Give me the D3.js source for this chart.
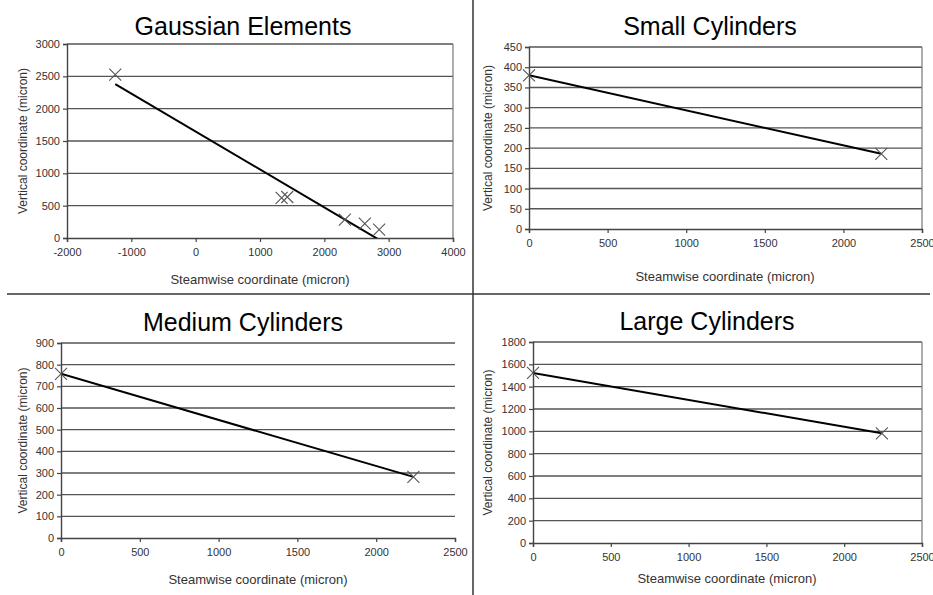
<!DOCTYPE html>
<html>
<head>
<meta charset="utf-8">
<script src="https://cdn.jsdelivr.net/npm/d3@7"></script>
<style>
  body { margin: 0; background: #fff; }
  svg { display: block; font-family: "Liberation Sans", Arial, sans-serif; }
  .tick text { fill: #333; font-size: 11px; }
  .chart-title { font-size: 25px; fill: #000; }
  .axis-title { font-size: 12px; fill: #333; }
  .axis-title.x { font-size: 13px; }
</style>
</head>
<body>
<svg id="chart" width="933" height="595"></svg>
<script>
// data
const titles = ["Gaussian Elements", "Small Cylinders", "Medium Cylinders", "Large Cylinders"];
const gaussX = [-1250, 1336, 1424, 2319, 2629, 2852];
const gaussY = [2525, 619, 634, 284, 222, 129];
const smallX = [0, 2241];
const smallY = [380, 186];
const mediumX = [0, 2236];
const mediumY = [758, 282];
const largeX = [0, 2242];
const largeY = [1523, 982];
const xDomains = [[-2000, 4000], [0, 2500], [0, 2500], [0, 2500]];
const yDomains = [[0, 3000], [0, 450], [0, 900], [0, 1800]];
const xSteps = [1000, 500, 500, 500];
const ySteps = [500, 50, 100, 200];

const xTitle = "Steamwise coordinate (micron)";
const yTitle = "Vertical coordinate (micron)";

// layout of each panel (pixel boxes of plot areas)
const panels = [
  {xs: gaussX, ys: gaussY, box: {l: 67, r: 453, t: 44, b: 238}, titleX: 243, titleY: 35, xlabY: 284, xlabX: 260, ylabX: 23, border: true},
  {xs: smallX, ys: smallY, box: {l: 529, r: 922, t: 47, b: 229}, titleX: 710, titleY: 35, xlabY: 281, xlabX: 725, ylabX: 488, border: true},
  {xs: mediumX, ys: mediumY, box: {l: 61, r: 455, t: 343, b: 538}, titleX: 243, titleY: 331, xlabY: 584, xlabX: 258, ylabX: 23, border: false},
  {xs: largeX, ys: largeY, box: {l: 533, r: 922, t: 342, b: 543}, titleX: 707, titleY: 330, xlabY: 583, xlabX: 727, ylabX: 488, border: true}
];

const svg = d3.select("#chart");

// panel dividers
svg.append("line").attr("x1", 473).attr("x2", 473).attr("y1", 0).attr("y2", 595)
  .attr("stroke", "#333").attr("stroke-width", 1.5);
svg.append("line").attr("x1", 7).attr("x2", 930).attr("y1", 294).attr("y2", 294)
  .attr("stroke", "#333").attr("stroke-width", 1.5);

function regression(xs, ys) {
  let mx = d3.mean(xs), my = d3.mean(ys);
  let sxy = d3.sum(xs, (x, i) => (x - mx) * (ys[i] - my));
  let sxx = d3.sum(xs, x => (x - mx) * (x - mx));
  let slope = sxy / sxx;
  return {slope, intercept: my - slope * mx};
}

panels.forEach((p, i) => {
  let box = p.box;
  let x = d3.scaleLinear().domain(xDomains[i]).range([box.l, box.r]);
  let y = d3.scaleLinear().domain(yDomains[i]).range([box.b, box.t]);
  let xTicks = d3.range(xDomains[i][0], xDomains[i][1] + 1, xSteps[i]);
  let yTicks = d3.range(yDomains[i][0], yDomains[i][1] + 1, ySteps[i]);
  let g = svg.append("g").attr("class", "panel");

  // gridlines
  g.append("g").selectAll("line").data(yTicks.slice(1)).enter().append("line")
    .attr("x1", box.l).attr("x2", box.r)
    .attr("y1", d => y(d)).attr("y2", d => y(d))
    .attr("stroke", "#555").attr("stroke-width", 1.4);

  if (p.border) {
    g.append("line").attr("x1", box.r).attr("x2", box.r).attr("y1", box.t).attr("y2", box.b)
      .attr("stroke", "#777").attr("stroke-width", 1.2);
  }

  // axes (plain hyphen for negatives, as in the original)
  let xa = g.append("g").attr("transform", `translate(0,${box.b})`)
    .call(d3.axisBottom(x).tickValues(xTicks).tickSize(4).tickPadding(6).tickFormat(d => String(d)));
  let ya = g.append("g").attr("transform", `translate(${box.l},0)`)
    .call(d3.axisLeft(y).tickValues(yTicks).tickSize(4).tickPadding(3).tickFormat(d => String(d)));
  [xa, ya].forEach(a => {
    a.select(".domain").attr("stroke", "#444").attr("stroke-width", 1.4);
    a.selectAll(".tick line").attr("stroke", "#444").attr("stroke-width", 1.2);
  });

  // trend line, clipped to plot area
  let clipId = "clip" + i;
  svg.append("clipPath").attr("id", clipId).append("rect")
    .attr("x", box.l).attr("y", box.t).attr("width", box.r - box.l).attr("height", box.b - box.t);
  let fit = regression(p.xs, p.ys);
  let ext = d3.extent(p.xs);
  g.append("line").attr("clip-path", `url(#${clipId})`)
    .attr("x1", x(ext[0])).attr("y1", y(fit.intercept + fit.slope * ext[0]))
    .attr("x2", x(ext[1])).attr("y2", y(fit.intercept + fit.slope * ext[1]))
    .attr("stroke", "#000").attr("stroke-width", 2);

  // X markers
  let s = 6;
  g.append("g").selectAll("path").data(p.xs).enter().append("path")
    .attr("d", (d, k) => {
      let cx = x(d), cy = y(p.ys[k]);
      return `M${cx - s},${cy - s}L${cx + s},${cy + s}M${cx - s},${cy + s}L${cx + s},${cy - s}`;
    })
    .attr("stroke", "#555").attr("stroke-width", 1.1).attr("fill", "none");

  // titles
  g.append("text").attr("class", "chart-title").attr("x", p.titleX).attr("y", p.titleY)
    .attr("text-anchor", "middle").text(titles[i]);
  g.append("text").attr("class", "axis-title x").attr("x", p.xlabX).attr("y", p.xlabY)
    .attr("text-anchor", "middle").text(xTitle);
  g.append("text").attr("class", "axis-title")
    .attr("transform", `translate(${p.ylabX},${(box.t + box.b) / 2}) rotate(-90)`)
    .attr("text-anchor", "middle").attr("dominant-baseline", "central").text(yTitle);
});
</script>
</body>
</html>
